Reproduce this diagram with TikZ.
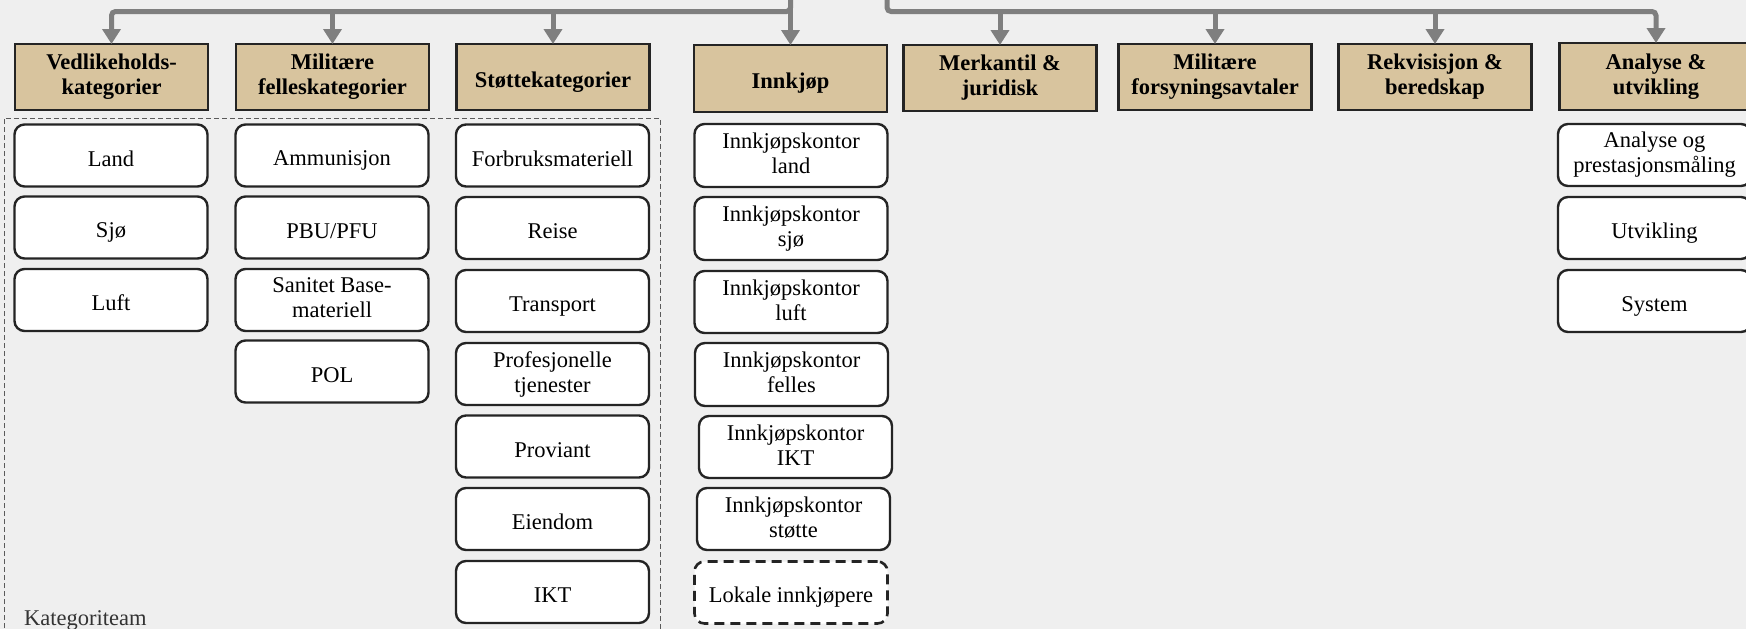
\documentclass[tikz,border=0pt]{standalone}
\usepackage{fontspec}
\setmainfont{Liberation Serif}
\usetikzlibrary{arrows.meta}

\definecolor{bg}{HTML}{EFEFEF}
\definecolor{tan}{HTML}{D8C49E}
\definecolor{wire}{HTML}{7F7F7F}
\definecolor{edge}{HTML}{242424}
\definecolor{frame}{HTML}{5A5A5A}

% fixed line struts so every label sits on the same optical centre
\newcommand{\topstrut}{\rule{0pt}{25pt}}
\newcommand{\botstrut}{\rule[-4pt]{0pt}{4pt}}

\tikzset{
  labeltext/.style={align=center, font=\fontsize{22.5}{25}\selectfont,
    execute at begin node=\topstrut, execute at end node=\botstrut},
  hdr/.style={labeltext, draw=edge, fill=tan, line width=2.6pt, minimum width=193pt,
    minimum height=66pt, inner sep=0pt, outer sep=0pt,
    font=\fontsize{22.5}{25}\selectfont\bfseries},
  sub/.style={labeltext, draw=edge, fill=white, line width=2.4pt, rounded corners=10pt,
    minimum width=193pt, minimum height=62pt, inner sep=0pt, outer sep=0pt},
  localbox/.style={sub, dash pattern=on 10pt off 6pt, line width=2.6pt},
  wirepath/.style={draw=wire, line width=5pt},
  conn/.style={wirepath, -{Triangle[width=18pt,length=15pt]}},
  teamframe/.style={draw=frame, line width=0.9pt, dash pattern=on 5pt off 3pt},
}

\begin{document}
\begin{tikzpicture}[x=1pt, y=-1pt]
  \useasboundingbox (0,0) rectangle (1746,629);
  \fill[bg] (0,0) rectangle (1746,629);
  \clip (0,0) rectangle (1746,629);

  % frame around the category teams
  \draw[teamframe] (4,660) -- (4,118) -- (660,118) -- (660,660);
  \node[anchor=base west, inner sep=0pt, text=black!80,
        font=\fontsize{22.5}{25}\selectfont] (team) at (24,625) {Kategoriteam};

  % top row
  \node[hdr] (h1) at (111.5,77) {Vedlikeholds-\\kategorier};
  \node[hdr] (h2) at (332.5,77) {Militære\\felleskategorier};
  \node[hdr] (h3) at (553,77) {Støttekategorier};
  \node[hdr, minimum height=67pt] (h4) at (790.5,78.5) {Innkjøp};
  \node[hdr] (h5) at (1000,78) {Merkantil \&\\juridisk};
  \node[hdr] (h6) at (1215,77) {Militære\\forsyningsavtaler};
  \node[hdr] (h7) at (1435,77) {Rekvisisjon \&\\beredskap};
  \node[hdr, minimum height=67pt] (h8) at (1656,76.5) {Analyse \&\\utvikling};

  % maintenance categories
  \node[sub] (v1) at (111,155.5) {Land};
  \node[sub] (v2) at (111,227.5) {Sjø};
  \node[sub] (v3) at (111,300) {Luft};

  % joint military categories
  \node[sub] (m1) at (332,155.5) {Ammunisjon};
  \node[sub] (m2) at (332,227.5) {PBU/PFU};
  \node[sub] (m3) at (332,300) {Sanitet Base-\\materiell};
  \node[sub] (m4) at (332,371.5) {POL};

  % support categories
  \node[sub] (s1) at (552.5,155.5) {Forbruksmateriell};
  \node[sub] (s2) at (552.5,228) {Reise};
  \node[sub] (s3) at (552.5,301) {Transport};
  \node[sub] (s4) at (552.5,374) {Profesjonelle\\tjenester};
  \node[sub] (s5) at (552.5,446.5) {Proviant};
  \node[sub] (s6) at (552.5,519) {Eiendom};
  \node[sub] (s7) at (552.5,592) {IKT};

  % procurement offices
  \node[sub, minimum height=63pt] (p1) at (791,155.5) {Innkjøpskontor\\land};
  \node[sub, minimum height=63pt] (p2) at (791,228.5) {Innkjøpskontor\\sjø};
  \node[sub] (p3) at (791,302) {Innkjøpskontor\\luft};
  \node[sub, minimum height=63pt] (p4) at (791.5,374.5) {Innkjøpskontor\\felles};
  \node[sub] (p5) at (795.5,447) {Innkjøpskontor\\IKT};
  \node[sub] (p6) at (793.5,519) {Innkjøpskontor\\støtte};
  \node[localbox] (p7) at (791,592.5) {Lokale innkjøpere};

  % analysis and development
  \node[sub] (a1) at (1654.5,155) {Analyse og\\prestasjonsmåling};
  \node[sub] (a2) at (1654.5,228) {Utvikling};
  \node[sub] (a3) at (1654.5,301) {System};

  % feed lines from the top
  \coordinate (srcL) at (790.5,-3);
  \coordinate (srcR) at (887,-3);
  \coordinate (busL) at (790.5,11.5);
  \coordinate (busR) at (887,11.5);

  \draw[conn] (srcL) -- (h4.north);
  \draw[conn, rounded corners=4pt] (srcL) |- (h1.north |- busL) -- (h1.north);
  \draw[conn] (h2.north |- busL) -- (h2.north);
  \draw[conn] (h3.north |- busL) -- (h3.north);

  \draw[conn, rounded corners=4pt] (srcR) |- (h8.north |- busR) -- (h8.north);
  \draw[conn] (h5.north |- busR) -- (h5.north);
  \draw[conn] (h6.north |- busR) -- (h6.north);
  \draw[conn] (h7.north |- busR) -- (h7.north);
\end{tikzpicture}
\end{document}
